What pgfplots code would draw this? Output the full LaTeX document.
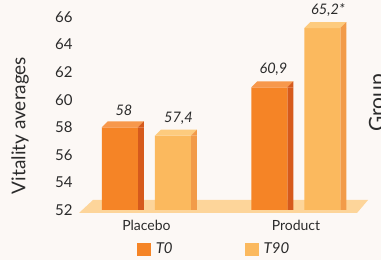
\documentclass[border=0pt]{standalone}
\usepackage{fontspec}
\setmainfont{Lato}
\usepackage{pgfplots}
\pgfplotsset{compat=1.18}
\definecolor{bg}{HTML}{FCF8F5}
\definecolor{floorc}{HTML}{FDD59A}
\definecolor{tzfront}{HTML}{F58426}
\definecolor{tzside}{HTML}{D65A1C}
\definecolor{tztop}{HTML}{F7984C}
\definecolor{tnfront}{HTML}{FBB95E}
\definecolor{tnside}{HTML}{F29B49}
\definecolor{tntop}{HTML}{FDCB7E}
\definecolor{txt}{HTML}{2B2B2B}
\pgfdeclareplotmark{topzero}{%
  \pgfsetfillcolor{tztop}%
  \pgfpathmoveto{\pgfqpoint{-44.5pt}{0pt}}%
  \pgfpathlineto{\pgfqpoint{-8.5pt}{0pt}}%
  \pgfpathlineto{\pgfqpoint{-2.5pt}{6pt}}%
  \pgfpathlineto{\pgfqpoint{-38.5pt}{6pt}}%
  \pgfpathclose\pgfusepathqfill
  \pgfsetfillcolor{tzside}%
  \pgfpathmoveto{\pgfqpoint{-8.5pt}{0pt}}%
  \pgfpathlineto{\pgfqpoint{-2.5pt}{6pt}}%
  \pgfpathlineto{\pgfqpoint{-2.5pt}{0pt}}%
  \pgfpathclose\pgfusepathqfill
}
\pgfdeclareplotmark{topninety}{%
  \pgfsetfillcolor{tntop}%
  \pgfpathmoveto{\pgfqpoint{8.5pt}{0pt}}%
  \pgfpathlineto{\pgfqpoint{44.5pt}{0pt}}%
  \pgfpathlineto{\pgfqpoint{50.5pt}{6pt}}%
  \pgfpathlineto{\pgfqpoint{14.5pt}{6pt}}%
  \pgfpathclose\pgfusepathqfill
  \pgfsetfillcolor{tnside}%
  \pgfpathmoveto{\pgfqpoint{44.5pt}{0pt}}%
  \pgfpathlineto{\pgfqpoint{50.5pt}{6pt}}%
  \pgfpathlineto{\pgfqpoint{50.5pt}{0pt}}%
  \pgfpathclose\pgfusepathqfill
}
\pgfplotstableread{
x y lab
0 58 58
1 60.9 60,9
}\tzero
\pgfplotstableread{
x y lab
0 57.4 57,4
1 65.2 65,2*
}\tninety
\begin{document}
\begin{tikzpicture}[x=1pt,y=1pt]
\path[use as bounding box, fill=bg] (0,0) rectangle (381,260);
\fill[floorc] (79,47) -- (357,47) -- (368,60) -- (93,60) -- cycle;
\begin{axis}[
  at={(78pt,50pt)}, anchor=south west,
  scale only axis, width=290pt, height=206.8pt,
  xmin=-0.458, xmax=1.482, ymin=52, ymax=67,
  axis line style={draw=none}, major tick length=0pt, tick style={draw=none},
  ytick={52,54,...,66}, xtick={0,1}, xticklabels={Placebo,Product},
  /pgf/number format/assume math mode=true,
  yticklabel style={font=\fontsize{15}{17}\selectfont, text=txt, xshift=-2pt},
  xticklabel style={font=\fontsize{14}{16}\selectfont, text=txt, yshift=-7pt},
  ylabel={Vitality averages},
  ylabel style={at={(axis description cs:-0.2,0.409)}, anchor=center, font=\fontsize{19}{21}\selectfont, text=txt},
  legend columns=2,
  legend style={at={(axis description cs:0.469,-0.19)}, anchor=center, draw=none, fill=none,
    font=\fontsize{15}{17}\selectfont\itshape, text=txt,
    /tikz/every even column/.append style={column sep=70pt}},
  nodes near coords style={font=\fontsize{14.5}{16}\selectfont\itshape, text=txt, yshift=8pt},
]
\addplot[ybar, bar width=6pt, bar shift=-5.5pt, fill=tzside, draw=none, forget plot] table[x=x,y=y] {\tzero};
\addplot[ybar, bar width=6pt, bar shift=47.5pt, fill=tnside, draw=none, forget plot] table[x=x,y=y] {\tninety};
\addplot[ybar, bar width=36pt, bar shift=-26.5pt, fill=tzfront, draw=none,
  nodes near coords, point meta=explicit symbolic,
  every node near coord/.append style={xshift=-22.5pt},
  legend image code/.code={\fill[tzfront] (0pt,-6.5pt) rectangle (14pt,6.5pt); \path (17pt,0pt);}]
  table[x=x,y=y,meta=lab] {\tzero};
\addlegendentry{T0}
\addplot[ybar, bar width=36pt, bar shift=26.5pt, fill=tnfront, draw=none,
  nodes near coords, point meta=explicit symbolic,
  every node near coord/.append style={xshift=32pt},
  legend image code/.code={\fill[tnfront] (0pt,-6.5pt) rectangle (14pt,6.5pt); \path (17pt,0pt);}]
  table[x=x,y=y,meta=lab] {\tninety};
\addlegendentry{T90}
\addplot[only marks, mark=topzero, forget plot] table[x=x,y=y] {\tzero};
\addplot[only marks, mark=topninety, forget plot] table[x=x,y=y] {\tninety};
\end{axis}
\node[rotate=90, anchor=base, font=\fontsize{21}{23}\selectfont, text=txt] at (384,157) {Group};
\end{tikzpicture}
\end{document}
